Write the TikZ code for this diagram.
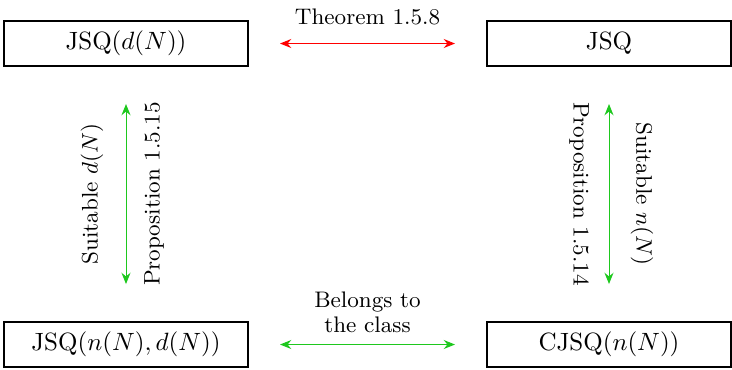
\documentclass[tikz,border=0pt]{standalone}
\usepackage{amsmath,amssymb}
\usepackage{xcolor}
\usepackage{tikz}
\usetikzlibrary{arrows.meta,positioning}

\definecolor{linkgreen}{RGB}{30,200,30}
\tikzset{
  qbox/.style={draw,thick,minimum width=97.6pt,minimum height=18pt,inner sep=0pt},
  note/.style={font=\fontsize{9}{10}\selectfont,text=black},
  link/.style={{Stealth[length=4.5pt,width=3.6pt]}-{Stealth[length=4.5pt,width=3.6pt]}},
  hlink/.style={link,shorten <=12.4pt,shorten >=12.4pt},
  vlink/.style={link,linkgreen,shorten <=14.8pt,shorten >=14.8pt},
}

\begin{document}
\begin{tikzpicture}[x=0.4pt,y=-0.4pt]
\useasboundingbox (0,0) rectangle (732,369);
% the four queueing policies
\node[qbox] (jsqd)  at (126,43.5)  {JSQ$(d(N))$};
\node[qbox] (jsq)   at (609,43.5)  {JSQ};
\node[qbox] (jsqnd) at (126,344.5) {JSQ$(n(N),d(N))$};
\node[qbox] (cjsq)  at (609,344.5) {CJSQ$(n(N))$};
% relations
\draw[hlink,red] (jsqd.east) -- (jsq.west) node[midway,above=4pt,note] {Theorem 1.5.8};
\draw[hlink,linkgreen] (jsqnd.east) -- (cjsq.west)
  node[midway,above=1pt,align=center,note] {Belongs to\\the class};
\draw[vlink] (jsqd.south) -- (jsqnd.north) coordinate[midway] (lmid);
\draw[vlink] (jsq.south) -- (cjsq.north) coordinate[midway] (rmid);
\node[note,rotate=90] (suitd) at ([xshift=-13.6pt]lmid) {Suitable $d(N)$};
\node[note,rotate=90] (prop15) at ([xshift=11.2pt]lmid) {Proposition 1.5.15};
\node[note,rotate=-90] (prop14) at ([xshift=-12pt]rmid) {Proposition 1.5.14};
\node[note,rotate=-90] (suitn) at ([xshift=13.2pt]rmid) {Suitable $n(N)$};
\end{tikzpicture}
\end{document}
